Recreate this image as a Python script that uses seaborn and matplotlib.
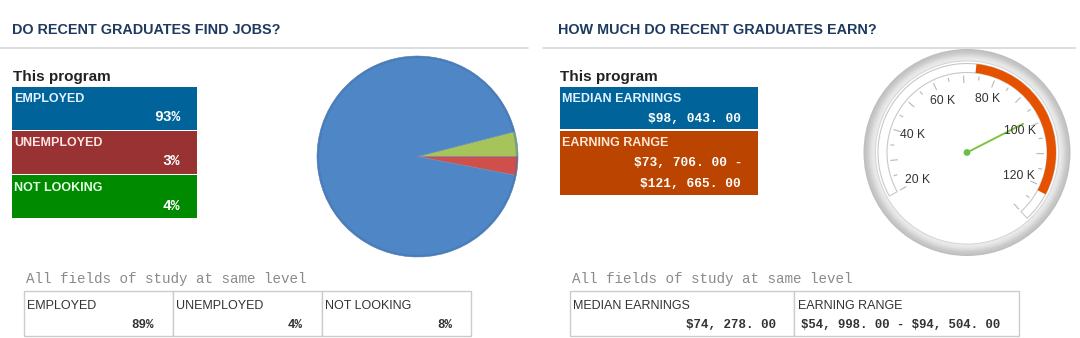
import numpy as np
import matplotlib
matplotlib.use("Agg")
import matplotlib.pyplot as plt
from matplotlib.patches import Wedge, Rectangle, Circle
import seaborn as sns

# ---------------- data ----------------
section_titles = ["DO RECENT GRADUATES FIND JOBS?", "HOW MUCH DO RECENT GRADUATES EARN?"]
status_labels = ["EMPLOYED", "UNEMPLOYED", "NOT LOOKING"]
program_pct = [93, 3, 4]
all_fields_pct = [89, 4, 8]
earn_labels = ["MEDIAN EARNINGS", "EARNING RANGE"]
program_median = 98043.00
program_range = [73706.00, 121665.00]
all_median = 74278.00
all_range = [54998.00, 94504.00]
gauge_label_values = [20000, 40000, 60000, 80000, 100000, 120000]
gauge_labels = ["20 K", "40 K", "60 K", "80 K", "100 K", "120 K"]
gauge_band = [20000, 130000]

# ---------------- style ----------------
sns.set_theme(style="white", rc={"figure.facecolor": "white", "axes.facecolor": "white"})
plt.rcParams["font.family"] = ["Liberation Sans", "DejaVu Sans"]
MONO = ["Liberation Mono", "DejaVu Sans Mono"]

TITLE_C = "#1E3A5F"
BOX_C = ["#00649B", "#993333", "#008A00"]
LBL_C = ["#E4F2FF", "#FFE4E4", "#E4FFE4"]
EARN_C = ["#00649B", "#BB4400"]
PIE_C = {"EMPLOYED": "#4F86C6", "UNEMPLOYED": "#CF504B", "NOT LOOKING": "#A5C55A"}


def money(v):
    return f"${v:,.2f}".replace(",", ", ").replace(".", ". ")


W, H = 1080, 338
fig = plt.figure(figsize=(W / 100, H / 100), dpi=100)
ax = fig.add_axes([0, 0, 1, 1])
ax.set_xlim(0, W)
ax.set_ylim(H, 0)
ax.axis("off")


def txt(x, y, s, **kw):
    kw.setdefault("va", "baseline")
    return ax.text(x, y, s, parse_math=False, **kw)


# titles & separators
txt(12, 34, section_titles[0], fontsize=10.35, fontweight="bold", color=TITLE_C)
txt(558, 34, section_titles[1], fontsize=10.35, fontweight="bold", color=TITLE_C)
ax.plot([0, 528], [48, 48], color="#D3D7DB", lw=1.2)
ax.plot([543, 1075], [48, 48], color="#D3D7DB", lw=1.2)

# "This program" headers
txt(13, 81, "This program", fontsize=11, fontweight="bold", color="#222222")
txt(560, 81, "This program", fontsize=11, fontweight="bold", color="#222222")

# left program boxes
for i, (lab, pct) in enumerate(zip(status_labels, program_pct)):
    top = 86.5 + i * 44.3
    ax.add_patch(Rectangle((12, top), 185, 43, facecolor=BOX_C[i], edgecolor="none"))
    txt(14, top + 15.5, lab, fontsize=9, fontweight="bold", color=LBL_C[i])
    txt(180, top + 34.5, f"{pct}%", fontsize=10.5, fontweight="bold", family=MONO,
        color="white", ha="right")

# right program boxes
ax.add_patch(Rectangle((560, 86.5), 198, 42, facecolor=EARN_C[0], edgecolor="none"))
txt(562, 102, earn_labels[0], fontsize=9, fontweight="bold", color=LBL_C[0])
txt(741, 122, money(program_median), fontsize=9.3, fontweight="bold", family=MONO,
    color="white", ha="right")
ax.add_patch(Rectangle((560, 130.5), 198, 64.5, facecolor=EARN_C[1], edgecolor="none"))
txt(562, 146, earn_labels[1], fontsize=9, fontweight="bold", color="#FFE8D8")
txt(742, 166, money(program_range[0]) + " -", fontsize=9.3, fontweight="bold", family=MONO,
    color="white", ha="right")
txt(741, 187, money(program_range[1]), fontsize=9.3, fontweight="bold", family=MONO,
    color="white", ha="right")

# "All fields" caption
txt(26, 283, "All fields of study at same level", fontsize=10.3, family=MONO, color="#8A8A8A")
txt(572, 283, "All fields of study at same level", fontsize=10.3, family=MONO, color="#8A8A8A")

# bottom left table
edges = [24, 173, 322, 471]
for i, (lab, pct) in enumerate(zip(status_labels, all_fields_pct)):
    x0, x1 = edges[i], edges[i + 1]
    ax.add_patch(Rectangle((x0, 291), x1 - x0, 45, facecolor="white", edgecolor="#CCCCCC", lw=1))
    txt(x0 + 3, 309, lab, fontsize=9, color="#333333")
    txt(x1 - 19, 327.5, f"{pct}%", fontsize=9, fontweight="bold", family=MONO,
        color="#333333", ha="right")

# bottom right table
redges = [570, 794, 1019]
for i in range(2):
    ax.add_patch(Rectangle((redges[i], 291), redges[i + 1] - redges[i], 45,
                           facecolor="white", edgecolor="#CCCCCC", lw=1))
txt(573, 309, earn_labels[0], fontsize=9, color="#333333")
txt(776, 327.5, money(all_median), fontsize=9, fontweight="bold", family=MONO,
    color="#333333", ha="right")
txt(798, 309, earn_labels[1], fontsize=9, color="#333333")
txt(801, 327.5, money(all_range[0]) + " - " + money(all_range[1]), fontsize=8.9,
    fontweight="bold", family=MONO, color="#333333")

# ---------------- pie ----------------
pcx, pcy, pr = 417.5, 156.5, 101.5
pa = fig.add_axes([(pcx - pr) / W, 1 - (pcy + pr) / H, 2 * pr / W, 2 * pr / H])
order = [2, 0, 1]  # counter-clockwise from 3 o'clock: not looking, employed, unemployed
pie_vals = [program_pct[k] for k in order]
pie_cols = [PIE_C[status_labels[k]] for k in order]
pa.pie(pie_vals, colors=pie_cols, startangle=0, counterclock=True, radius=1.0,
       wedgeprops=dict(edgecolor="#6d8fb8", linewidth=0.4))
pa.add_patch(Circle((0, 0), 0.99, fill=False, edgecolor="#3f6ea8", lw=1.6, alpha=0.4))
pa.set_xlim(-1.01, 1.01)
pa.set_ylim(-1.01, 1.01)
pa.set_aspect("equal")
pa.axis("off")

# ---------------- gauge ----------------
gcx, gcy, gs = 967, 152.5, 112
ga = fig.add_axes([(gcx - gs) / W, 1 - (gcy + gs) / H, 2 * gs / W, 2 * gs / H])
ga.set_xlim(-gs, gs)
ga.set_ylim(-gs, gs)
ga.set_aspect("equal")
ga.axis("off")

A0, DEG_PER_K = 256.0, 2.335


def ang(v):
    return A0 - DEG_PER_K * v / 1000.0


# outer chrome ring (gradient, drawn as nested filled discs)
ring_cols = sns.blend_palette(["#BEBEBE", "#CCCCCC", "#E2E2E2", "#EEEEEE"], 12)
for k, r in enumerate(np.linspace(103.5, 92.5, 12)):
    ga.add_patch(Circle((0, 0), r, facecolor=ring_cols[k], edgecolor="none"))
ga.add_patch(Circle((0, 0), 91.6, facecolor="white", edgecolor="#D6D6D6", lw=0.8))

# inner band + plot band
ga.add_patch(Wedge((0, 0), 89, ang(gauge_band[1]), ang(gauge_band[0]), width=9,
                   facecolor="white", edgecolor="#C8C8C8", lw=0.8))
ga.add_patch(Wedge((0, 0), 89, ang(program_range[1]), ang(program_range[0]), width=9,
                   facecolor="#E65100", edgecolor="none"))

# ticks
for v in range(20000, 130001, 5000):
    a = np.deg2rad(ang(v))
    r0 = 69.5 if v % 10000 == 0 else 73
    ga.plot([r0 * np.cos(a), 77 * np.cos(a)], [r0 * np.sin(a), 77 * np.sin(a)],
            color="#BBBBBB", lw=0.85, solid_capstyle="butt")

# labels
for v, lab in zip(gauge_label_values, gauge_labels):
    a = np.deg2rad(ang(v))
    ga.text(57 * np.cos(a), 57 * np.sin(a), lab, fontsize=8.8, color="#333333",
            ha="center", va="center")

# needle
a = np.deg2rad(ang(program_median))
ga.plot([0, 63 * np.cos(a)], [0, 63 * np.sin(a)], color="#7DC540", lw=1.4, solid_capstyle="round")
ga.add_patch(Circle((0, 0), 3.4, facecolor="#6DBE45", edgecolor="none", zorder=5))

fig.savefig("out.png", dpi=100, facecolor="white")
